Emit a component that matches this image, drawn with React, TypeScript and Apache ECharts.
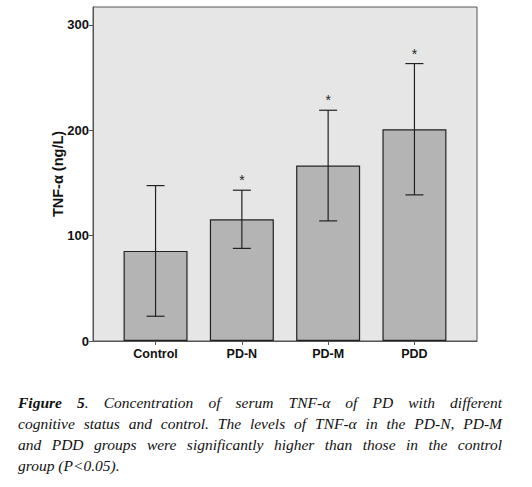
import React, { useEffect, useRef } from "react";
import * as echarts from "echarts";

const categories = ["Control", "PD-N", "PD-M", "PDD"];
const means = [85.5, 115.5, 166.5, 201];
const errors = [62, 27.6, 52.5, 62.3];
const significant = [false, true, true, true];
const yTicks = [0, 100, 200, 300];
const captionLines = [
  "Concentration of serum TNF-α of PD with different",
  "cognitive status and control. The levels of TNF-α in the PD-N, PD-M",
  "and PDD groups were significantly higher than those in the control",
  "group (P<0.05).",
];

export default function App() {
  const ref = useRef<HTMLDivElement>(null);
  useEffect(() => {
    if (!ref.current) return;
    const chart = echarts.init(ref.current, null, { renderer: "svg" });
    const idx = categories.map((_, i) => i);
    chart.setOption({
      animation: false,
      grid: {
        left: 93,
        top: 7,
        right: 55,
        bottom: 146,
        show: true,
        backgroundColor: "#e6e6e6",
        borderColor: "#555555",
        borderWidth: 1,
      },
      xAxis: {
        type: "value",
        min: -0.725,
        max: 3.725,
        splitLine: { show: false },
        axisLine: { show: true, onZero: false, lineStyle: { color: "#555555" } },
        axisTick: { show: true, length: 4, customValues: idx, lineStyle: { color: "#555555" } },
        axisLabel: {
          customValues: idx,
          formatter: (v: number) => categories[Math.round(v)] ?? "",
          fontFamily: "Liberation Sans, Arial, sans-serif",
          fontWeight: "bold",
          fontSize: 12.5,
          color: "#111",
          margin: 6,
        },
      },
      yAxis: {
        type: "value",
        min: 0,
        max: 317,
        splitLine: { show: false },
        name: "TNF-α (ng/L)",
        nameLocation: "middle",
        nameGap: 28,
        nameMoveOverlap: false,
        nameTextStyle: {
          fontFamily: "Liberation Sans, Arial, sans-serif",
          fontWeight: "bold",
          fontSize: 14.5,
          color: "#111",
        },
        axisLine: { show: true, onZero: false, lineStyle: { color: "#555555" } },
        axisTick: { show: true, length: 4, customValues: yTicks, lineStyle: { color: "#555555" } },
        axisLabel: {
          customValues: yTicks,
          fontFamily: "Liberation Sans, Arial, sans-serif",
          fontWeight: "bold",
          fontSize: 13,
          color: "#111",
          margin: 4,
        },
      },
      series: [
        {
          type: "bar",
          data: means.map((m, i) => [i, m]),
          barWidth: 64,
          itemStyle: { color: "#b4b4b4", borderColor: "#222", borderWidth: 1.2 },
        },
        {
          type: "custom",
          data: means.map((m, i) => [i, m - errors[i], m + errors[i], significant[i] ? 1 : 0]),
          renderItem: (params: any, api: any) => {
            const x = api.value(0);
            const lo = api.coord([x, api.value(1)]);
            const hi = api.coord([x, api.value(2)]);
            const cap = 9;
            const style = { stroke: "#222", lineWidth: 1.2 };
            const children: any[] = [
              { type: "line", shape: { x1: lo[0], y1: lo[1], x2: hi[0], y2: hi[1] }, style },
              { type: "line", shape: { x1: lo[0] - cap, y1: lo[1], x2: lo[0] + cap, y2: lo[1] }, style },
              { type: "line", shape: { x1: hi[0] - cap, y1: hi[1], x2: hi[0] + cap, y2: hi[1] }, style },
            ];
            if (api.value(3) === 1) {
              children.push({
                type: "text",
                style: {
                  text: "*",
                  x: hi[0],
                  y: hi[1] - 3,
                  align: "center",
                  verticalAlign: "bottom",
                  fontFamily: "Liberation Sans, Arial, sans-serif",
                  fontSize: 14,
                  fill: "#222",
                },
              });
            }
            return { type: "group", children };
          },
          z: 5,
        },
      ],
    });
    return () => chart.dispose();
  }, []);

  const lineStyle = (last: boolean): React.CSSProperties => ({
    textAlign: last ? "left" : "justify",
    textAlignLast: last ? "left" : "justify",
    whiteSpace: "nowrap",
    height: 21,
  });

  return (
    <div style={{ position: "fixed", left: 0, top: 0, width: 532, height: 487, background: "#fff" }}>
      <div ref={ref} style={{ position: "absolute", left: 0, top: 0, width: 532, height: 487 }} />
      <div
        style={{
          position: "absolute",
          left: 18,
          top: 392,
          width: 484,
          fontFamily: "'Liberation Serif', 'Times New Roman', serif",
          fontStyle: "italic",
          fontSize: 15.5,
          lineHeight: "21px",
          color: "#111",
        }}
      >
        {captionLines.map((line, i) => (
          <div key={i} style={lineStyle(i === captionLines.length - 1)}>
            {i === 0 ? (
              <>
                <b>Figure 5</b>. {line}
              </>
            ) : (
              line
            )}
          </div>
        ))}
      </div>
    </div>
  );
}
